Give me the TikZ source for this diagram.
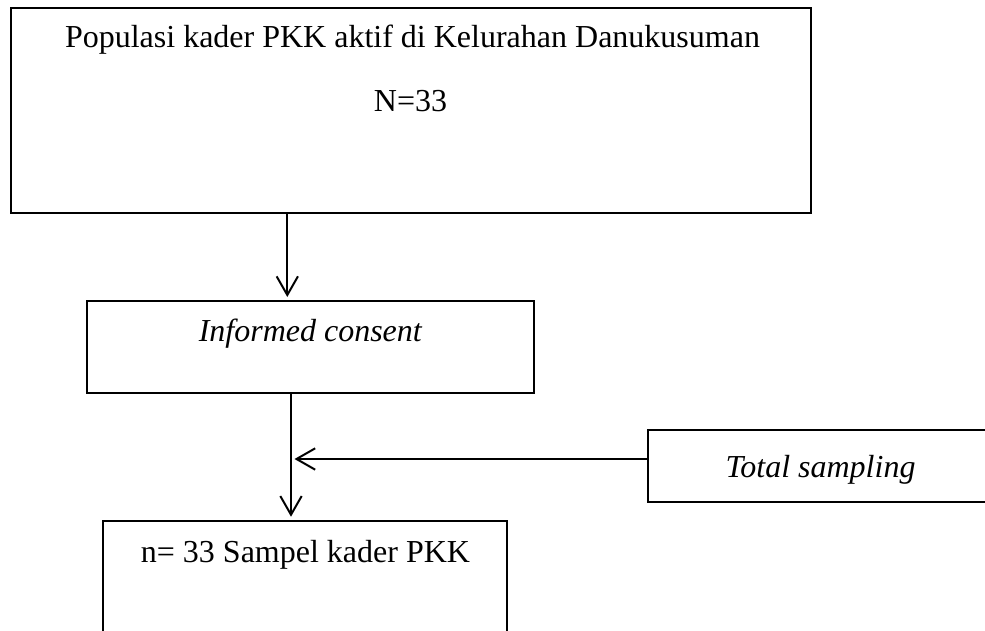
\documentclass[tikz,border=0pt]{standalone}
\usepackage{fontspec}
\setmainfont{Liberation Serif}
\usetikzlibrary{arrows.meta}
\begin{document}
\begin{tikzpicture}[x=0.75pt,y=-0.75pt,
  box/.style={draw=black, line width=1.5pt, rectangle, inner sep=0pt, outer sep=0pt, fill=none},
  txt/.style={anchor=base, inner sep=0pt, outer sep=0pt, font=\fontsize{24}{28}\selectfont},
  arr/.style={draw=black, line width=1.5pt, -{Straight Barb[length=14pt,width=16pt,line width=1.5pt]}}]
\useasboundingbox (0,0) rectangle (985,631);
\clip (0,0) rectangle (985,631);
\fill[white] (0,0) rectangle (985,631);
% boxes
\node[box, minimum width=600pt, minimum height=153.75pt] (b1) at (410.7,110.8) {};
\node[box, minimum width=335.5pt, minimum height=69pt] (b2) at (310.3,347) {};
\node[box, minimum width=303pt, minimum height=97pt] (b3) at (304.7,585.4) {};
\node[box, minimum width=264pt, minimum height=53.8pt] (b4) at (824,465.85) {};
% texts
\node[txt] (t1) at (412.5,47.5) {Populasi kader PKK aktif di Kelurahan Danukusuman};
\node[txt] (t2) at (410.5,112) {N=33};
\node[txt] (t3) at (310.3,341) {\itshape Informed consent};
\node[txt] (t4) at (305.5,562) {n= 33 Sampel kader PKK};
\node[txt] (t5) at (820.5,477.5) {\itshape Total sampling};
% connectors
\coordinate (x1) at (287.3,0);
\coordinate (x2) at (291,0);
\coordinate (y3) at (0,459);
\coordinate (j) at (294.5,459);
\draw[arr, shorten >=3pt] (b1.south -| x1) -- (b2.north -| x1);
\draw[arr, shorten >=3pt] (b2.south -| x2) -- (b3.north -| x2);
\draw[arr] (b4.west |- y3) -- (j);
\end{tikzpicture}
\end{document}
